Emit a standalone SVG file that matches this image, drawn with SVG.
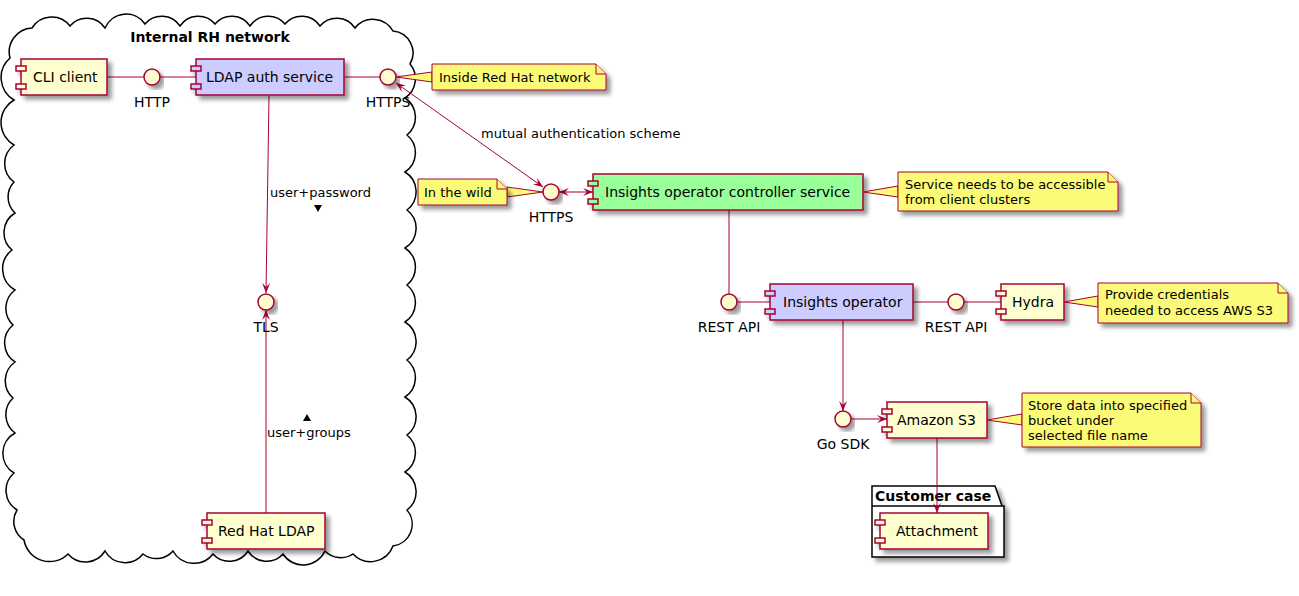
<svg xmlns="http://www.w3.org/2000/svg" width="1299" height="596" viewBox="0 0 1299 596">
<defs>
<filter id="sh" x="-10%" y="-10%" width="130%" height="140%">
<feGaussianBlur in="SourceAlpha" stdDeviation="2" result="b"/>
<feOffset dx="4" dy="4" in="b" result="o"/>
<feComponentTransfer in="o" result="s"><feFuncA type="linear" slope="0.4"/></feComponentTransfer>
<feMerge><feMergeNode in="s"/><feMergeNode in="SourceGraphic"/></feMerge>
</filter>
<marker id="ah" viewBox="0 0 10 8" refX="10" refY="4" markerWidth="10" markerHeight="8" markerUnits="userSpaceOnUse" orient="auto-start-reverse">
<path d="M0,0 L10,4 L0,8 L4,4 Z" fill="#A80036"/>
</marker>
</defs>
<style>
text{font-family:"DejaVu Sans","Noto Sans",sans-serif;fill:#000}
.t14{font-size:14px}
.t13{font-size:13px}
.b{font-weight:bold;font-size:14px}
.comp rect{stroke:#A80036;stroke-width:1.5}
.y{fill:#FEFECE}
.l{fill:#CCCCFF}
.g{fill:#99FF99}
.ic{fill:#FEFECE;stroke:#A80036;stroke-width:1.5}
.note path{fill:#FBFB77;stroke:#A80036;stroke-width:1}
.wedge{fill:#FBFB77;stroke:#A80036;stroke-width:1}
.ln{stroke:#A80036;stroke-width:1;fill:none}
.arr{stroke:#A80036;stroke-width:1;fill:none;marker-end:url(#ah)}
.dbl{stroke:#A80036;stroke-width:1;fill:none;marker-end:url(#ah);marker-start:url(#ah)}
</style>
<rect width="1299" height="596" fill="#fff"/>

<g id="cloud-internal">
<path fill="#fff" stroke="#000" stroke-width="1.5" d="M10,58 A24,24 0 0,1 32,28 A23,23 0 0,1 70,26 A22,22 0 0,1 105,28 A23,23 0 0,1 145,24 A22,22 0 0,1 180,26 A22,22 0 0,1 215,24 A22,22 0 0,1 250,26 A22,22 0 0,1 285,24 A22,22 0 0,1 320,26 A22,22 0 0,1 355,28 A23,23 0 0,1 393,31 A22,22 0 0,1 410,64 A23,23 0 0,1 405,98 A23,23 0 0,1 407,135 A23,23 0 0,1 405,172 A23,23 0 0,1 407,210 A23,23 0 0,1 405,248 A23,23 0 0,1 407,285 A23,23 0 0,1 405,322 A23,23 0 0,1 407,360 A23,23 0 0,1 405,397 A23,23 0 0,1 407,435 A23,23 0 0,1 405,472 A23,23 0 0,1 407,510 A22,22 0 0,1 393,546 A24,24 0 0,1 353,554 A22,22 0 0,1 325,551 A24,24 0 0,1 283,554 A22,22 0 0,1 248,551 A22,22 0 0,1 213,554 A24,24 0 0,1 173,551 A22,22 0 0,1 143,554 A23,23 0 0,1 105,551 A23,23 0 0,1 68,554 A26,26 0 0,1 24,540 A22,22 0 0,1 17,510 A23,23 0 0,1 14,473 A23,23 0 0,1 15,433 A23,23 0 0,1 13,398 A23,23 0 0,1 15,362 A23,23 0 0,1 13,325 A23,23 0 0,1 15,290 A24,24 0 0,1 12,250 A23,23 0 0,1 15,213 A22,22 0 0,1 14,182 A23,23 0 0,1 14,145 A26,26 0 0,1 14,100 A26,26 0 0,1 10,58 Z"/>
<text class="b" x="210" y="42" text-anchor="middle">Internal RH network</text>
</g>

<g id="pkg-customer-case" filter="url(#sh)">
<path d="M872,486 L995,486 L1002,506 L1004,506 L1004,557 L872,557 Z" fill="#fff" stroke="#000" stroke-width="1.5"/>
<path d="M872,506 L1002,506" stroke="#000" stroke-width="1.5"/>
</g>
<text class="b" x="875" y="501">Customer case</text>

<g id="connectors">
<line class="ln" x1="107" y1="77" x2="144" y2="77"/>
<line class="ln" x1="160" y1="77" x2="196" y2="77"/>
<line class="ln" x1="344" y1="77" x2="380" y2="77"/>
<line class="arr" x1="269" y1="96" x2="266" y2="293"/>
<line class="arr" x1="266" y1="513" x2="266" y2="310"/>
<line class="dbl" x1="396" y1="83" x2="543" y2="187"/>
<line class="dbl" x1="559" y1="192" x2="593" y2="192"/>
<line class="ln" x1="729" y1="210" x2="729" y2="294"/>
<line class="ln" x1="737" y1="302" x2="770" y2="302"/>
<line class="ln" x1="913" y1="302" x2="948" y2="302"/>
<line class="ln" x1="964" y1="302" x2="1001" y2="302"/>
<line class="arr" x1="843" y1="320" x2="843" y2="411"/>
<line class="arr" x1="851" y1="419" x2="887" y2="419"/>
<line class="arr" x1="937" y1="438" x2="937" y2="513"/>
<text class="t13" x="270" y="197">user+password</text>
<polygon points="314,205 322,205 318,212" fill="#000"/>
<polygon points="303,421 311,421 307,414" fill="#000"/>
<text class="t13" x="267" y="437">user+groups</text>
<text class="t13" x="481" y="138">mutual authentication scheme</text>
</g>

<g id="cli-client" class="comp" filter="url(#sh)">
<rect class="y" x="21" y="59" width="86" height="36"/>
<rect class="y" x="16" y="66" width="10" height="5"/>
<rect class="y" x="16" y="84" width="10" height="5"/>
</g>
<text class="t14" x="33" y="82">CLI client</text>

<g id="if-http">
<circle class="ic" cx="152" cy="77" r="8" filter="url(#sh)"/>
<text class="t14" x="152" y="107" text-anchor="middle">HTTP</text>
</g>

<g id="ldap-auth-service" class="comp" filter="url(#sh)">
<rect class="l" x="196" y="59" width="148" height="36"/>
<rect class="l" x="191" y="66" width="10" height="5"/>
<rect class="l" x="191" y="84" width="10" height="5"/>
</g>
<text class="t14" x="206" y="82">LDAP auth service</text>

<g id="if-https-inside">
<circle class="ic" cx="388" cy="77" r="8" filter="url(#sh)"/>
<text class="t14" x="388" y="107" text-anchor="middle">HTTPS</text>
</g>

<g id="note-inside">
<polygon class="wedge" points="432,72 396,77 432,82"/>
<g class="note" filter="url(#sh)"><path d="M432,64 L596,64 L606,74 L606,90 L432,90 Z"/><path d="M596,64 L596,74 L606,74"/></g>
<text class="t13" x="439" y="82">Inside Red Hat network</text>
</g>

<g id="if-tls">
<circle class="ic" cx="266" cy="302" r="8" filter="url(#sh)"/>
<text class="t14" x="266" y="332" text-anchor="middle">TLS</text>
</g>

<g id="red-hat-ldap" class="comp" filter="url(#sh)">
<rect class="y" x="207" y="513" width="118" height="36"/>
<rect class="y" x="202" y="520" width="10" height="5"/>
<rect class="y" x="202" y="538" width="10" height="5"/>
</g>
<text class="t14" x="218" y="536">Red Hat LDAP</text>

<g id="if-https-wild">
<circle class="ic" cx="551" cy="192" r="8" filter="url(#sh)"/>
<text class="t14" x="551" y="222" text-anchor="middle">HTTPS</text>
</g>

<g id="note-wild">
<polygon class="wedge" points="507,187 543,192 507,197"/>
<g class="note" filter="url(#sh)"><path d="M418,179 L497,179 L507,189 L507,205 L418,205 Z"/><path d="M497,179 L497,189 L507,189"/></g>
<text class="t13" x="424" y="197">In the wild</text>
</g>

<g id="insights-controller" class="comp" filter="url(#sh)">
<rect class="g" x="593" y="174" width="270" height="36"/>
<rect class="g" x="588" y="181" width="10" height="5"/>
<rect class="g" x="588" y="199" width="10" height="5"/>
</g>
<text class="t14" x="605" y="197">Insights operator controller service</text>

<g id="note-service">
<polygon class="wedge" points="898,186 863,192 898,197"/>
<g class="note" filter="url(#sh)"><path d="M898,172 L1108,172 L1118,182 L1118,211 L898,211 Z"/><path d="M1108,172 L1108,182 L1118,182"/></g>
<text class="t13" x="905" y="189">Service needs to be accessible</text>
<text class="t13" x="905" y="204">from client clusters</text>
</g>

<g id="if-rest-api-1">
<circle class="ic" cx="729" cy="302" r="8" filter="url(#sh)"/>
<text class="t14" x="729" y="332" text-anchor="middle">REST API</text>
</g>

<g id="insights-operator" class="comp" filter="url(#sh)">
<rect class="l" x="770" y="284" width="143" height="36"/>
<rect class="l" x="765" y="291" width="10" height="5"/>
<rect class="l" x="765" y="309" width="10" height="5"/>
</g>
<text class="t14" x="783" y="307">Insights operator</text>

<g id="if-rest-api-2">
<circle class="ic" cx="956" cy="302" r="8" filter="url(#sh)"/>
<text class="t14" x="956" y="332" text-anchor="middle">REST API</text>
</g>

<g id="hydra" class="comp" filter="url(#sh)">
<rect class="y" x="1001" y="284" width="63" height="36"/>
<rect class="y" x="996" y="291" width="10" height="5"/>
<rect class="y" x="996" y="309" width="10" height="5"/>
</g>
<text class="t14" x="1012" y="307">Hydra</text>

<g id="note-hydra">
<polygon class="wedge" points="1098,296 1064,302 1098,307"/>
<g class="note" filter="url(#sh)"><path d="M1098,283 L1278,283 L1288,293 L1288,323 L1098,323 Z"/><path d="M1278,283 L1278,293 L1288,293"/></g>
<text class="t13" x="1105" y="299">Provide credentials</text>
<text class="t13" x="1105" y="315">needed to access AWS S3</text>
</g>

<g id="if-go-sdk">
<circle class="ic" cx="843" cy="419" r="8" filter="url(#sh)"/>
<text class="t14" x="843" y="449" text-anchor="middle">Go SDK</text>
</g>

<g id="amazon-s3" class="comp" filter="url(#sh)">
<rect class="y" x="887" y="402" width="100" height="36"/>
<rect class="y" x="882" y="409" width="10" height="5"/>
<rect class="y" x="882" y="427" width="10" height="5"/>
</g>
<text class="t14" x="897" y="425">Amazon S3</text>

<g id="note-s3">
<polygon class="wedge" points="1022,414 987,420 1022,425"/>
<g class="note" filter="url(#sh)"><path d="M1022,393 L1191,393 L1201,403 L1201,447 L1022,447 Z"/><path d="M1191,393 L1191,403 L1201,403"/></g>
<text class="t13" x="1028" y="410">Store data into specified</text>
<text class="t13" x="1028" y="425">bucket under</text>
<text class="t13" x="1028" y="440">selected file name</text>
</g>

<g id="attachment" class="comp" filter="url(#sh)">
<rect class="y" x="880" y="513" width="108" height="36"/>
<rect class="y" x="875" y="520" width="10" height="5"/>
<rect class="y" x="875" y="538" width="10" height="5"/>
</g>
<text class="t14" x="896" y="536">Attachment</text>
</svg>
